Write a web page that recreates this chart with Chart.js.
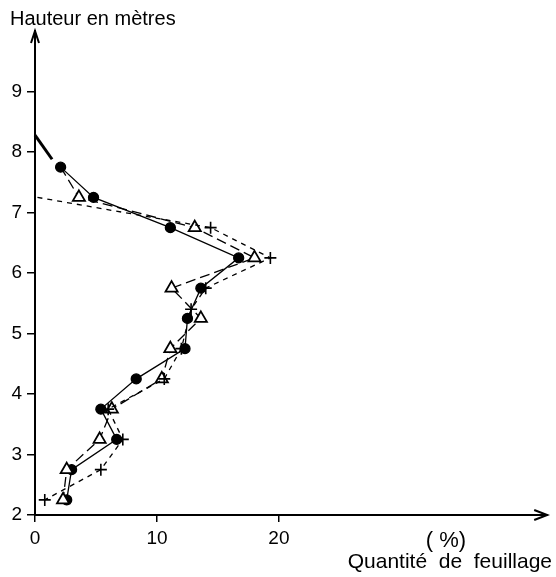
<!DOCTYPE html>
<html>
<head>
<meta charset="utf-8">
<script src="https://cdn.jsdelivr.net/npm/chart.js@4/dist/chart.umd.min.js"></script>
<style>
html,body{margin:0;padding:0;background:#fff;}
#wrap{width:556px;height:577px;position:relative;}
</style>
</head>
<body>
<div id="wrap"><canvas id="c" width="556" height="577"></canvas></div>
<script>
// Heights (m) and foliage amounts (%)
const dotHeights   = [7.75, 7.25, 6.75, 6.25, 5.75, 5.25, 4.75, 4.25, 3.75, 3.25, 2.75, 2.25];
const dotValues    = [2.1, 4.8, 11.1, 16.7, 13.6, 12.5, 12.3, 8.3, 5.4, 6.7, 3.0, 2.6];

const triHeights   = [7.75, 7.25, 6.75, 6.25, 5.75, 5.25, 4.75, 4.25, 3.75, 3.25, 2.75, 2.25];
const triValues    = [2.1, 3.6, 13.1, 18.0, 11.2, 13.6, 11.1, 10.4, 6.3, 5.3, 2.6, 2.3];

const plusHeights  = [7.25, 6.75, 6.25, 5.75, 5.4, 4.75, 4.25, 3.75, 3.25, 2.75, 2.25];
const plusValues   = [0.2, 14.4, 19.3, 14.0, 12.8, 12.0, 10.6, 6.0, 7.2, 5.4, 0.8];

const topHeights   = [8.28, 7.88];
const topValues    = [0.0, 1.4];

const xTickValues  = [0, 10, 20];
const yTickValues  = [2, 3, 4, 5, 6, 7, 8, 9];

const yTitle = 'Hauteur en mètres';
const xUnit  = '( %)';
const xTitle = 'Quantité  de  feuillage';

function pts(xs, ys){ return xs.map((v,i)=>({x:v, y:ys[i]})); }

const FONT = "'Liberation Sans', 'DejaVu Sans', sans-serif";

const decor = {
  id: 'decor',
  afterDraw(chart){
    const ctx = chart.ctx;
    const a = chart.chartArea;
    ctx.save();
    ctx.strokeStyle = '#000';
    ctx.lineWidth = 2;
    // y axis arrow
    ctx.beginPath();
    ctx.moveTo(a.left - 4, a.top + 12);
    ctx.lineTo(a.left, a.top);
    ctx.lineTo(a.left + 4, a.top + 12);
    ctx.stroke();
    // x axis arrow
    ctx.beginPath();
    ctx.moveTo(a.right - 13, a.bottom - 5);
    ctx.lineTo(a.right, a.bottom);
    ctx.lineTo(a.right - 13, a.bottom + 5);
    ctx.stroke();
    ctx.fillStyle = '#000';
    ctx.textBaseline = 'alphabetic';
    ctx.font = '20px ' + FONT;
    ctx.textAlign = 'left';
    ctx.fillText(yTitle, 10, 25);
    ctx.font = '22px ' + FONT;
    ctx.textAlign = 'center';
    ctx.fillText(xUnit, 446, 547);
    ctx.textAlign = 'right';
    ctx.font = '21px ' + FONT;
    ctx.fillText(xTitle, 552, 568);
    ctx.restore();
  }
};

new Chart(document.getElementById('c'), {
  type: 'scatter',
  data: {
    datasets: [
      {
        data: pts(topValues, topHeights),
        showLine: true, borderColor: '#000', borderWidth: 3,
        pointRadius: 0, clip: false
      },
      {
        data: pts(plusValues, plusHeights),
        showLine: true, borderColor: '#000', borderWidth: 1.3,
        borderDash: [5, 5],
        pointStyle: 'cross',
        pointRadius: ctx => ctx.dataIndex === 0 ? 0 : 6,
        pointBorderWidth: 1.6,
        pointBorderColor: '#000',
        clip: false
      },
      {
        data: pts(triValues, triHeights),
        showLine: true, borderColor: '#000', borderWidth: 1.3,
        borderDash: [10, 5],
        pointStyle: 'triangle',
        pointRadius: ctx => ctx.dataIndex === 0 ? 0 : 7,
        pointBorderWidth: 1.8,
        pointBorderColor: '#000',
        pointBackgroundColor: '#fff',
        clip: false
      },
      {
        data: pts(dotValues, dotHeights),
        showLine: true, borderColor: '#000', borderWidth: 1.3,
        pointStyle: 'circle', pointRadius: 5,
        pointBackgroundColor: '#000', pointBorderColor: '#000',
        clip: false
      }
    ]
  },
  options: {
    responsive: false,
    animation: false,
    layout: { padding: { top: 31, right: 6, left: 0, bottom: 0 } },
    plugins: { legend: { display: false }, tooltip: { enabled: false } },
    scales: {
      x: {
        type: 'linear', min: 0, max: 42,
        afterBuildTicks: s => { s.ticks = xTickValues.map(v => ({ value: v })); },
        afterFit: s => { s.height = 62; },
        grid: { display: true, drawOnChartArea: false, drawTicks: true, tickLength: 7, color: '#000', lineWidth: 1.5 },
        border: { display: true, color: '#000', width: 2 },
        ticks: { color: '#000', font: { size: 19, family: FONT }, padding: 5, maxRotation: 0, autoSkip: false }
      },
      y: {
        type: 'linear', min: 2, max: 10,
        afterBuildTicks: s => { s.ticks = yTickValues.map(v => ({ value: v })); },
        afterFit: s => { s.width = 35; },
        grid: { display: true, drawOnChartArea: false, drawTicks: true, tickLength: 8, color: '#000', lineWidth: 1.5 },
        border: { display: true, color: '#000', width: 2 },
        ticks: { color: '#000', font: { size: 19, family: FONT }, padding: 5, autoSkip: false }
      }
    }
  },
  plugins: [decor]
});
</script>
</body>
</html>
